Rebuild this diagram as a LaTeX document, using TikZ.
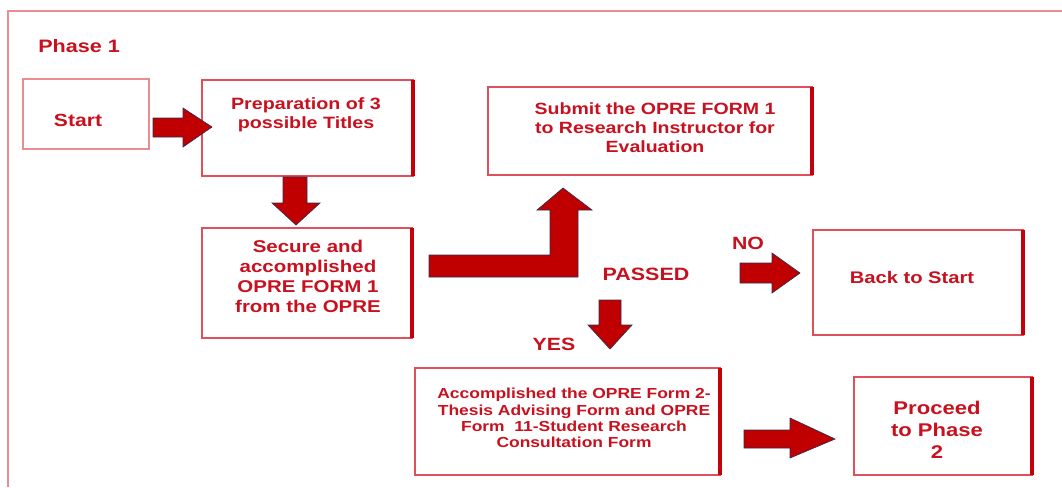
\documentclass[tikz,border=0pt]{standalone}
\usepackage{fontspec}
\setmainfont{Liberation Sans}[FakeStretch=1.2]
\definecolor{txtred}{RGB}{200,16,30}
\definecolor{boxred}{RGB}{224,80,90}
\definecolor{edgered}{RGB}{196,0,10}
\definecolor{arrowred}{RGB}{192,0,0}
\definecolor{arrowline}{RGB}{50,45,80}
\definecolor{framepink}{RGB}{234,140,145}
\tikzset{
  boxline/.style={draw=boxred, line width=1.3pt},
  startline/.style={draw=framepink, line width=1pt},
  rightedge/.style={draw=edgered, line width=2.4pt},
  blockarrow/.style={fill=arrowred, draw=arrowline, line width=0.5pt, line join=miter},
  txt/.style={text=txtred, align=center, inner sep=0pt, font=\bfseries\fontsize{#1}{#1}\selectfont},
}
\newcommand{\lsp}[2]{\fontsize{#1}{#2}\selectfont}
\begin{document}
\begin{tikzpicture}[x=0.75pt, y=-0.75pt]
\useasboundingbox (0,0) rectangle (1062,487);
% outer frame
\draw[draw=framepink, line width=0.8pt] (8,487) -- (8,11) -- (1062,11);
% Phase label
\node[txt=13.5, anchor=west] (phase) at (38,46) {Phase 1};

% boxes
\draw[startline] (23,79) rectangle (149,149);
\node[txt=13.2] (start) at (78,120) {Start};

\draw[boxline] (202,80) rectangle (413,176);
\draw[rightedge] (413,80) -- (413,176);
\node[txt=12.3, font=\bfseries\lsp{12.3}{14.3}] (prep) at (306,115) {Preparation of 3\\possible Titles};

\draw[boxline] (202,228) rectangle (412,338);
\draw[rightedge] (412,228) -- (412,338);
\node[txt=12.8, font=\bfseries\lsp{12.8}{15}] (secure) at (308,276) {Secure and\\accomplished\\OPRE FORM 1\\from the OPRE};

\draw[boxline] (488,87) rectangle (812,175);
\draw[rightedge] (812,87) -- (812,175);
\node[txt=12.2, font=\bfseries\lsp{12.2}{14.3}] (submit) at (655,128) {Submit the OPRE FORM 1\\to Research Instructor for\\Evaluation};

\draw[boxline] (813,230) rectangle (1023,335);
\draw[rightedge] (1023,230) -- (1023,335);
\node[txt=12.6] (back) at (912,277) {Back to Start};

\draw[boxline] (415,368) rectangle (720,475);
\draw[rightedge] (720,368) -- (720,475);
\node[txt=10.9, font=\bfseries\lsp{10.9}{12.2}] (accomp) at (574,418) {Accomplished the OPRE Form 2-\\Thesis Advising Form and OPRE\\Form\ \ 11-Student Research\\Consultation Form};

\draw[boxline] (854,377) rectangle (1032,475);
\draw[rightedge] (1032,377) -- (1032,475);
\node[txt=13.8, font=\bfseries\lsp{13.8}{16.5}] (proceed) at (937,430) {Proceed\\to Phase\\2};

% labels
\node[txt=13.4] (passed) at (646,274) {PASSED};
\node[txt=13.3] (no) at (748,243) {NO};
\node[txt=13.3] (yes) at (554,344) {YES};

% block arrows
\draw[blockarrow] (153,118) -- (183,118) -- (183,108) -- (212,127) -- (183,147) -- (183,137) -- (153,137) -- cycle;
\draw[blockarrow] (283,177) -- (307,177) -- (307,203) -- (320,203) -- (296,225) -- (272,203) -- (283,203) -- cycle;
\draw[blockarrow] (429,255) -- (550,255) -- (550,210) -- (537,210) -- (563,188) -- (592,210) -- (578,210) -- (578,277) -- (429,277) -- cycle;
\draw[blockarrow] (740,263) -- (772,263) -- (772,253) -- (800,273) -- (772,293) -- (772,283) -- (740,283) -- cycle;
\draw[blockarrow] (599,300) -- (621,300) -- (621,325) -- (632,325) -- (610,349) -- (588,325) -- (599,325) -- cycle;
\draw[blockarrow] (744,430) -- (790,430) -- (790,418) -- (835,439) -- (790,458) -- (790,448) -- (744,448) -- cycle;
\end{tikzpicture}
\end{document}
